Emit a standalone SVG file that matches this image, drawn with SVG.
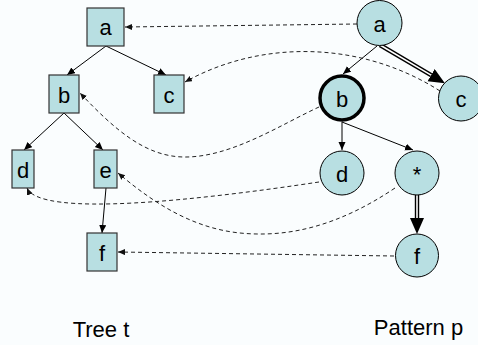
<svg xmlns="http://www.w3.org/2000/svg" width="478" height="345" viewBox="0 0 478 345">
<defs>
<style>
.bg{fill:#fafdfe}
.rn{fill:#b8dfe2;stroke:#333;stroke-width:1.2}
.cn{fill:#b8dfe2;stroke:#000;stroke-width:1}
.cn.sel{stroke-width:3.5}
.lbl{font-family:"Liberation Sans",Arial,sans-serif;font-size:22px;fill:#000;text-anchor:middle}
.edge{fill:none;stroke:#000;stroke-width:1}
.dash{fill:none;stroke:#222;stroke-width:1;stroke-dasharray:4,3}
.dbl-o{fill:none;stroke:#000;stroke-width:4.4}
.dbl-i{fill:none;stroke:#fff;stroke-width:1.6}
</style>
<marker id="ah" markerUnits="userSpaceOnUse" markerWidth="9" markerHeight="8" refX="8" refY="3.5" orient="auto"><path d="M0,0 L8,3.5 L0,7 z" fill="#000"/></marker>
<marker id="dh" markerUnits="userSpaceOnUse" markerWidth="8" markerHeight="7" refX="7" refY="3" orient="auto"><path d="M0,0 L7,3 L0,6 z" fill="#111"/></marker>
<marker id="bh" markerUnits="userSpaceOnUse" markerWidth="17" markerHeight="15" refX="0" refY="7" orient="auto"><path d="M0,0 L16,7 L0,14 z" fill="#000"/></marker>
</defs>
<rect class="bg" x="0" y="0" width="478" height="345"/>
<g id="connectors">
<path class="edge" d="M106,46 L67,75" marker-end="url(#ah)"/>
<path class="edge" d="M106,46 L166,75" marker-end="url(#ah)"/>
<path class="edge" d="M64,113 L24,150" marker-end="url(#ah)"/>
<path class="edge" d="M64,113 L103,150" marker-end="url(#ah)"/>
<path class="edge" d="M106,188 L102,233" marker-end="url(#ah)"/>
<path class="edge" d="M377,46 L343,74" marker-end="url(#ah)"/>
<path class="edge" d="M342,122 L342,150" marker-end="url(#ah)"/>
<path class="edge" d="M342,122 L413,150" marker-end="url(#ah)"/>
<path class="dbl-o" d="M380,45 L431.1,75.1" marker-end="url(#bh)"/>
<path class="dbl-i" d="M380,45 L431.1,75.1"/>
<path class="dbl-o" d="M417,195 L417,218" marker-end="url(#bh)"/>
<path class="dbl-i" d="M417,195 L417,218"/>
<path class="dash" d="M357,24 L125,27" marker-end="url(#dh)"/>
<path class="dash" d="M440,91 C360,40 260,40 185,82" marker-end="url(#dh)"/>
<path class="dash" d="M319,107 C280,125 230,158 183,157 C145,156 115,130 80,93" marker-end="url(#dh)"/>
<path class="dash" d="M319,182 C200,200 40,218 27,188" marker-end="url(#dh)"/>
<path class="dash" d="M395,188 C340,225 290,238 240,233 C190,228 150,200 118,173" marker-end="url(#dh)"/>
<path class="dash" d="M394,256 L118,252" marker-end="url(#dh)"/>
</g>
<g id="t-a"><rect class="rn" x="87" y="8" width="37" height="38"/><text class="lbl" x="105.5" y="35">a</text></g>
<g id="t-b"><rect class="rn" x="49" y="75" width="30" height="38"/><text class="lbl" x="64" y="102.5">b</text></g>
<g id="t-c"><rect class="rn" x="154" y="75" width="30" height="38"/><text class="lbl" x="169" y="102.5">c</text></g>
<g id="t-d"><rect class="rn" x="12" y="150" width="22" height="38"/><text class="lbl" x="23" y="177.5">d</text></g>
<g id="t-e"><rect class="rn" x="94" y="150" width="23" height="38"/><text class="lbl" x="105.5" y="177.5">e</text></g>
<g id="t-f"><rect class="rn" x="87" y="233" width="30" height="38"/><text class="lbl" x="102" y="260.5">f</text></g>
<g id="p-a"><circle class="cn" cx="379.5" cy="23" r="22.5"/><text class="lbl" x="379.5" y="31.5">a</text></g>
<g id="p-b"><circle class="cn sel" cx="342" cy="98" r="22"/><text class="lbl" x="342" y="106.5">b</text></g>
<g id="p-c"><circle class="cn" cx="461" cy="98.5" r="22.5"/><text class="lbl" x="461" y="107">c</text></g>
<g id="p-d"><circle class="cn" cx="342" cy="173" r="22"/><text class="lbl" x="342" y="181.5">d</text></g>
<g id="p-star"><circle class="cn" cx="417" cy="173" r="22"/><text class="lbl" x="417" y="181.5">*</text></g>
<g id="p-f"><circle class="cn" cx="417" cy="255.5" r="21.5"/><text class="lbl" x="417" y="264">f</text></g>
<text class="lbl" x="101" y="337">Tree t</text>
<text class="lbl" x="418.5" y="335">Pattern p</text>
</svg>
